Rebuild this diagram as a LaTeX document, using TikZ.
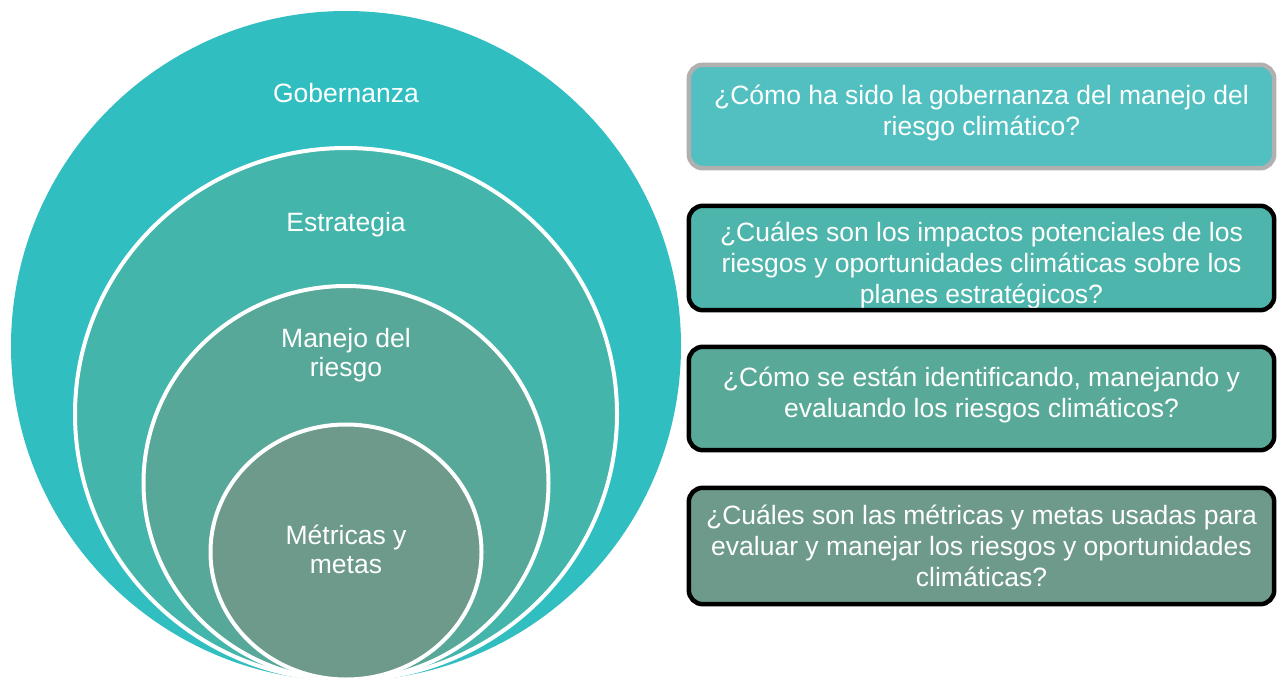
\documentclass[tikz,border=0pt]{standalone}
\usepackage{fontspec}
\setmainfont{Liberation Sans}
\usetikzlibrary{shapes.geometric}
\definecolor{cOne}{HTML}{30BEC1}
\definecolor{cTwo}{HTML}{44B5AB}
\definecolor{cThree}{HTML}{57A898}
\definecolor{cFour}{HTML}{6D9A8A}
\definecolor{bOne}{HTML}{52C0C1}
\definecolor{bTwo}{HTML}{4DB5AB}
\definecolor{bThree}{HTML}{58A997}
\definecolor{bFour}{HTML}{6D9A8A}
\definecolor{grayline}{HTML}{B0B0B0}
\begin{document}
\begin{tikzpicture}[x=1pt,y=-1pt,
  ring/.style={ellipse, inner sep=0pt, outer sep=0pt, draw=white, line width=4pt},
  lbl/.style={text=white, align=center, inner sep=0pt, font=\fontsize{26.5}{29}\selectfont},
  boxfill/.style={rectangle, rounded corners=14pt, inner sep=0pt, minimum width=585pt},
  boxline/.style={line width=4.5pt, rounded corners=14pt},
  boxtext/.style={text=white, align=center, inner sep=0pt, font=\fontsize{26.5}{31}\selectfont}]
\useasboundingbox (0,0) rectangle (1279,682);
% circles
\node[ellipse, inner sep=0pt, outer sep=0pt, fill=cOne, minimum width=670pt, minimum height=670pt] (gob) at (346,346) {};
\node[ring, fill=cTwo, minimum width=542pt, minimum height=532pt] (est) at (346,414) {};
\node[ring, fill=cThree, minimum width=405pt, minimum height=394pt] (man) at (346,483) {};
\node[ring, fill=cFour, minimum width=271pt, minimum height=255pt] (met) at (346,552) {};
\node[lbl] (tgob) at (346,93) {Gobernanza};
\node[lbl] (test) at (346,225) {Estrategia};
\node[lbl] (tman) at (346,355) {Manejo del\\riesgo};
\node[lbl] (tmet) at (346,549) {Métricas y\\metas};
% boxes
\node[boxfill, fill=bOne, minimum height=103pt] (b1) at (981.5,116.5) {};
\node[boxtext] (q1) at (981.5,113) {¿Cómo ha sido la gobernanza del manejo del\\riesgo climático?};
\draw[boxline, grayline] (b1.south west) rectangle (b1.north east);
\node[boxfill, fill=bTwo, minimum height=104pt] (b2) at (981.5,258) {};
\node[boxtext] (q2) at (981.5,265) {¿Cuáles son los impactos potenciales de los\\riesgos y oportunidades climáticas sobre los\\planes estratégicos?};
\draw[boxline, black] (b2.south west) rectangle (b2.north east);
\node[boxfill, fill=bThree, minimum height=103pt] (b3) at (981.5,398.5) {};
\node[boxtext] (q3) at (981.5,395) {¿Cómo se están identificando, manejando y\\evaluando los riesgos climáticos?};
\draw[boxline, black] (b3.south west) rectangle (b3.north east);
\node[boxfill, fill=bFour, minimum height=116pt] (b4) at (981.5,546) {};
\node[boxtext] (q4) at (981.5,546) {¿Cuáles son las métricas y metas usadas para\\evaluar y manejar los riesgos y oportunidades\\climáticas?};
\draw[boxline, black] (b4.south west) rectangle (b4.north east);
\end{tikzpicture}
\end{document}
